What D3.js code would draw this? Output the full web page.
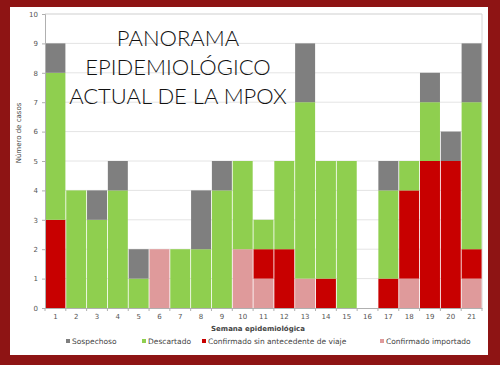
<!DOCTYPE html>
<html><head><meta charset="utf-8">
<script src="https://cdn.jsdelivr.net/npm/d3@7"></script>
<style>body{margin:0;background:#8e1414;}svg{display:block;}</style>
</head><body>
<svg id="c" width="500" height="365"></svg>
<script>
const weeks = ["1","2","3","4","5","6","7","8","9","10","11","12","13","14","15","16","17","18","19","20","21"];
const importado   = [0,0,0,0,0,2,0,0,0,2,1,0,1,0,0,0,0,1,0,0,1];
const sinViaje    = [3,0,0,0,0,0,0,0,0,0,1,2,0,1,0,0,1,3,5,5,1];
const descartado  = [5,4,3,4,1,0,2,2,4,3,1,3,6,4,5,0,3,1,2,0,5];
const sospechoso  = [1,0,1,1,1,0,0,2,1,0,0,0,2,0,0,0,1,0,1,1,2];
const yTicks = [0,1,2,3,4,5,6,7,8,9,10];
const seriesNames = ["Confirmado importado","Confirmado sin antecedente de viaje","Descartado","Sospechoso"];
const colors = ["#df9a9b","#c80000","#8fcf4f","#7f7f7f"];
const legendOrder = ["Sospechoso","Descartado","Confirmado sin antecedente de viaje","Confirmado importado"];
const titleLines = ["PANORAMA","EPIDEMIOLÓGICO","ACTUAL DE LA MPOX"];

const svg = d3.select("#c");
svg.append("rect").attr("x",0).attr("y",0).attr("width",500).attr("height",365).attr("fill","#8e1414");
svg.append("rect").attr("x",10).attr("y",7).attr("width",478).attr("height",348).attr("fill","#ffffff");

const m = {l:45, r:482, t:14, b:308};
const x = d3.scaleBand().domain(weeks).range([m.l, m.r]).paddingInner(0.04).paddingOuter(0.02);
const y = d3.scaleLinear().domain([0,10]).range([m.b, m.t]);

// gridlines
svg.append("g").selectAll("line").data(yTicks.filter(d=>d>0)).join("line")
  .attr("x1",m.l).attr("x2",m.r).attr("y1",d=>y(d)).attr("y2",d=>y(d))
  .attr("stroke",d=>d===10?"#cfcfcf":"#e4e4e4").attr("stroke-width",1);
svg.append("line").attr("x1",m.r).attr("x2",m.r).attr("y1",m.t).attr("y2",m.b).attr("stroke","#d6d6d6");

const table = weeks.map((w,i)=>({week:w, "Confirmado importado":importado[i], "Confirmado sin antecedente de viaje":sinViaje[i], "Descartado":descartado[i], "Sospechoso":sospechoso[i]}));
const stack = d3.stack().keys(seriesNames)(table);
const color = d3.scaleOrdinal().domain(seriesNames).range(colors);

svg.append("g").selectAll("g").data(stack).join("g").attr("fill",d=>color(d.key))
  .selectAll("rect").data(d=>d.filter(p=>p[1]>p[0])).join("rect")
  .attr("x",d=>x(d.data.week)).attr("width",x.bandwidth())
  .attr("y",d=>y(d[1])).attr("height",d=>y(d[0])-y(d[1]));

// axes
const yAxis = svg.append("g").attr("transform",`translate(${m.l},0)`)
  .call(d3.axisLeft(y).tickValues(yTicks).tickSize(3).tickPadding(4));
yAxis.select(".domain").attr("stroke","#b0b0b0");
yAxis.selectAll(".tick line").attr("stroke","#b0b0b0");
yAxis.selectAll("text").attr("fill","#555").style("font-family","'DejaVu Sans'").style("font-size","7px");

const xAxis = svg.append("g").attr("transform",`translate(0,${m.b})`)
  .call(d3.axisBottom(x).tickSize(0).tickPadding(6));
xAxis.select(".domain").attr("stroke","#b0b0b0");
xAxis.selectAll("text").attr("fill","#555").style("font-family","'DejaVu Sans'").style("font-size","7px");
// tick marks between bands
svg.append("g").selectAll("line").data(d3.range(weeks.length+1)).join("line")
  .attr("x1",i=>m.l+i*(m.r-m.l)/weeks.length).attr("x2",i=>m.l+i*(m.r-m.l)/weeks.length)
  .attr("y1",m.b).attr("y2",m.b+3).attr("stroke","#b0b0b0");

svg.append("text").attr("x",258).attr("y",331).attr("text-anchor","middle")
  .style("font-family","'DejaVu Sans'").style("font-size","7px").style("font-weight","bold").attr("fill","#444")
  .text("Semana epidemiológica");
svg.append("text").attr("transform","translate(21,133) rotate(-90)").attr("text-anchor","middle")
  .style("font-family","'DejaVu Sans'").style("font-size","7px").attr("fill","#444")
  .text("Número de casos");

// legend
const legX = [66,142,202,380];
const lg = svg.append("g").selectAll("g").data(legendOrder).join("g")
  .attr("transform",(d,i)=>`translate(${legX[i]},344)`);
lg.append("rect").attr("x",0).attr("y",-5).attr("width",4).attr("height",4).attr("fill",d=>color(d));
lg.append("text").attr("x",6).attr("y",0).style("font-family","'DejaVu Sans'").style("font-size","7.5px").attr("fill","#444").text(d=>d);

// title
svg.append("g").selectAll("text").data(titleLines).join("text")
  .attr("x",178).attr("y",(d,i)=>46+i*29).attr("text-anchor","middle")
  .style("font-family","Lato").style("font-weight","300").style("font-size","22px").attr("fill","#111")
  .text(d=>d);
</script>
</body></html>
